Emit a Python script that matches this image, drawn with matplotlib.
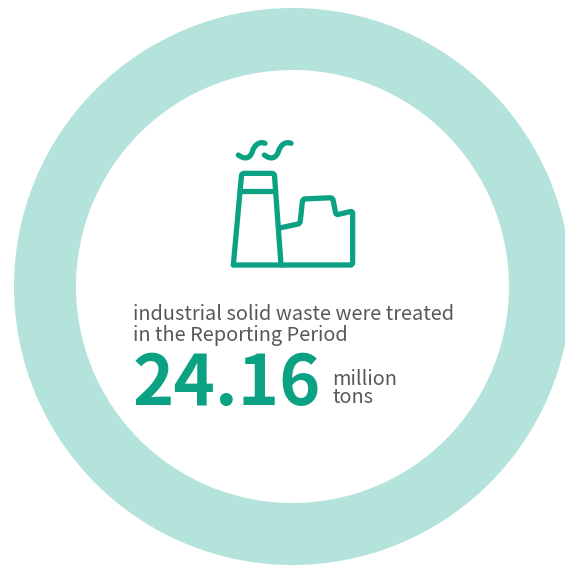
import math
import matplotlib
matplotlib.use("Agg")
import matplotlib.pyplot as plt
from matplotlib.path import Path
from matplotlib.patches import PathPatch

plt.rcParams['font.family'] = ['Noto Sans CJK SC', 'DejaVu Sans']

ring_share = [100]
headline = ["industrial solid waste were treated", "in the Reporting Period"]
amount = "24.16"
unit = ["million", "tons"]

GREEN = "#0aa283"
RING = "#b3e3da"
GREY = "#595757"
W, H = 565, 566

fig = plt.figure(figsize=(W / 100, H / 100), dpi=100, facecolor="white")
ax = fig.add_axes([0, 0, 1, 1])
ax.pie(ring_share, colors=[RING], center=(292.5, 286.5), radius=278.5,
       wedgeprops=dict(width=62, linewidth=0), frame=True)
ax.set_xlim(0, W)
ax.set_ylim(H, 0)
ax.set_aspect("equal")
ax.axis("off")


def to_px(points):
    return [(220 + x / 3, 130 + y / 3) for x, y in points]


def stroke(pts, codes):
    ax.add_patch(PathPatch(Path(pts, codes), fill=False, edgecolor=GREEN,
                           lw=3.8, capstyle="round", joinstyle="round"))


def rounded(points, r=2.5):
    """Stroke a polyline whose inner corners are eased with radius r."""
    pts = to_px(points)
    verts, codes = [pts[0]], [Path.MOVETO]
    for a, b, c in zip(pts, pts[1:], pts[2:]):
        la, lc = math.dist(a, b), math.dist(b, c)
        p = (b[0] + (a[0] - b[0]) * r / la, b[1] + (a[1] - b[1]) * r / la)
        q = (b[0] + (c[0] - b[0]) * r / lc, b[1] + (c[1] - b[1]) * r / lc)
        verts += [p, b, q]
        codes += [Path.LINETO, Path.CURVE3, Path.CURVE3]
    verts.append(pts[-1])
    codes.append(Path.LINETO)
    stroke(verts, codes)


# chimney, with its band
rounded([(40, 405), (65, 130), (163, 130), (183, 405)])
rounded([(62, 182), (166, 182)])
# factory hall and floor
rounded([(183, 293), (240, 281), (248, 207), (338, 203), (348, 255),
         (398, 243), (398, 405), (40, 405)])
# two smoke curls
curve = [Path.MOVETO, Path.CURVE4, Path.CURVE4, Path.CURVE4,
         Path.CURVE4, Path.CURVE4, Path.CURVE4]
for dx in (0, 78):
    stroke(to_px([(55 + dx, 75), (75 + dx, 90), (90 + dx, 85), (97 + dx, 65),
                  (103 + dx, 45), (118 + dx, 33), (135 + dx, 40)]), curve)

ax.text(133, 320, headline[0], fontsize=14.35, color=GREY, va="baseline", ha="left")
ax.text(133, 341, headline[1], fontsize=14.35, color=GREY, va="baseline", ha="left")
ax.text(133, 405, amount, fontsize=50.5, color=GREEN, fontweight="bold",
        va="baseline", ha="left")
ax.text(332.5, 403, "\n".join(unit), fontsize=14.3, color=GREY, va="baseline",
        ha="left", linespacing=0.8)

fig.savefig("out.png", dpi=100)
